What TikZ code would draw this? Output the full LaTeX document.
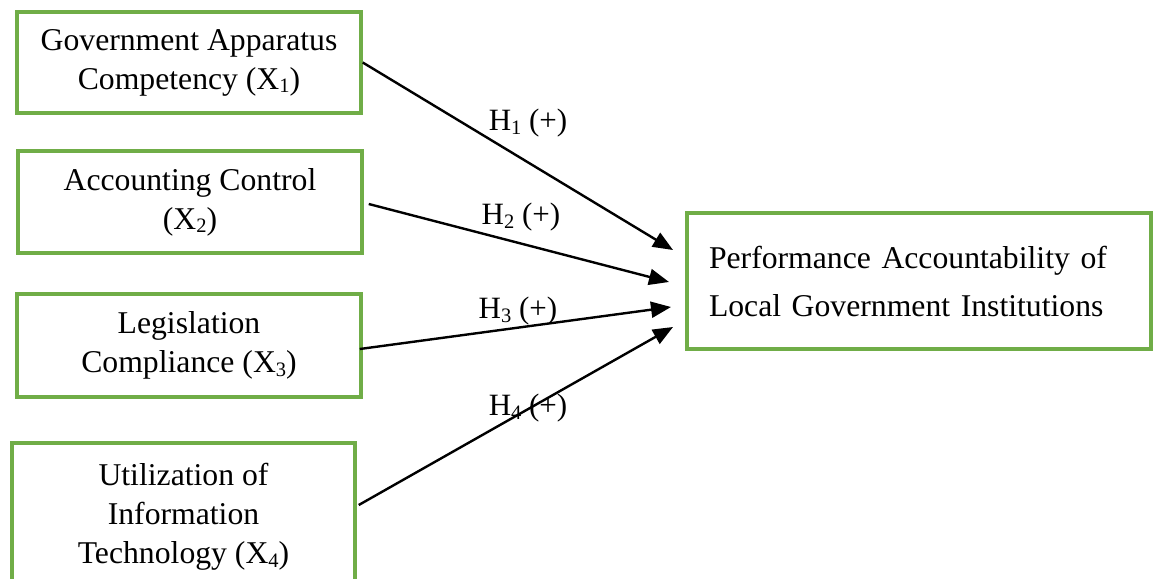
\documentclass[tikz,border=0pt]{standalone}
\usepackage{fontspec}
\setmainfont{Liberation Serif}
\usetikzlibrary{arrows.meta}
\definecolor{boxgreen}{HTML}{70AD47}
\newcommand{\mysub}[1]{\raisebox{-0.12em}{\fontsize{20.5}{20.5}\selectfont #1}}
\tikzset{
  varbox/.style={draw=boxgreen, line width=3.5pt, inner sep=0pt, align=center,
    font=\fontsize{31.7}{39}\selectfont, text=black},
  link/.style={line width=2.4pt, -{Triangle[length=20pt,width=16pt]}},
  hyp/.style={font=\fontsize{31}{36}\selectfont, inner sep=0pt}
}
\begin{document}
\begin{tikzpicture}[x=1pt,y=-1pt]
\useasboundingbox (0,0) rectangle (1155,578);
\fill[white] (0,0) rectangle (1155,578);
\node[varbox, minimum width=344pt, minimum height=101pt] (b1) at (189,62.5)
  {Government Apparatus\\Competency (X\mysub{1})};
\node[varbox, minimum width=344pt, minimum height=102pt] (b2) at (190,202)
  {Accounting Control\\(X\mysub{2})};
\node[varbox, minimum width=344pt, minimum height=103pt] (b3) at (189,345.5)
  {Legislation\\Compliance (X\mysub{3})};
\node[varbox, minimum width=343pt, minimum height=147pt] (b4) at (183.5,516.5)
  {Utilization of\\Information\\Technology (X\mysub{4})};
\node[varbox, text width=420pt, inner xsep=22pt, minimum height=136pt,
  font=\fontsize{31.7}{48}\selectfont, align=left] (y) at (919,281)
  {Performance Accountability of\\Local Government Institutions};
\coordinate (t1) at (673,250);
\coordinate (t2) at (669,282);
\coordinate (t3) at (671,307);
\coordinate (t4) at (673,327);
\draw[link] (b1.east) -- (t1);
\draw[link] ([shift={(5,2)}]b2.east) -- (t2);
\draw[link] ([shift={(-3,3.5)}]b3.east) -- (t3);
\draw[link] ([shift={(2,-11.5)}]b4.east) -- (t4);
\node[hyp] (h1) at (528,123) {H\mysub{1} (+)};
\node[hyp] (h2) at (521,217) {H\mysub{2} (+)};
\node[hyp] (h3) at (518,311) {H\mysub{3} (+)};
\node[hyp] (h4) at (528,408) {H\mysub{4} (+)};
\end{tikzpicture}
\end{document}
